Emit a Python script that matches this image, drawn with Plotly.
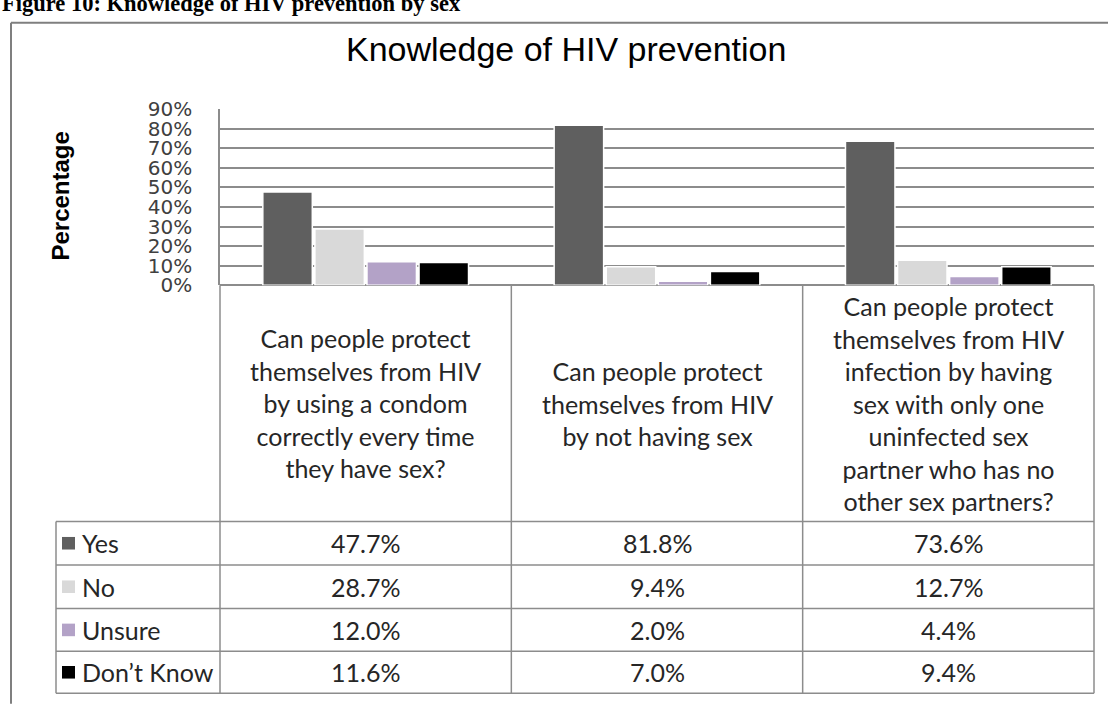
import plotly.graph_objects as go

# Survey questions (x categories) and answer shares in percent
questions = [
    "Can people protect<br>themselves from HIV<br>by using a condom<br>correctly every time<br>they have sex?",
    "Can people protect<br>themselves from HIV<br>by not having sex",
    "Can people protect<br>themselves from HIV<br>infection by having<br>sex with only one<br>uninfected sex<br>partner who has no<br>other sex partners?",
]
answers = ["Yes", "No", "Unsure", "Don\u2019t Know"]
yes_pct = [47.7, 81.8, 73.6]
no_pct = [28.7, 9.4, 12.7]
unsure_pct = [12.0, 2.0, 4.4]
dontknow_pct = [11.6, 7.0, 9.4]
y_ticks = [0, 10, 20, 30, 40, 50, 60, 70, 80, 90]

series = [yes_pct, no_pct, unsure_pct, dontknow_pct]
colors = ["#5f5f5f", "#d9d9d9", "#b3a2c7", "#000000"]

W, H = 1108, 711


def fx(px):
    return px / W


def fy(py):
    return 1 - py / H


# plot-area and table geometry (pixels)
PLOT_L, PLOT_R = 220, 1094
PLOT_TOP, PLOT_BOT = 100.7, 282.7
LEG_L = 56
ROW_LINES = [527.3, 572.3, 617.3, 661.7, 705]
LINE_COL = "#8c8c8c"
TEXT_COL = "#262626"
TABLE_FONT = dict(family="Lato", size=25, color=TEXT_COL)

fig = go.Figure()
for name, vals, col in zip(answers, series, colors):
    fig.add_trace(go.Bar(
        x=questions, y=vals, name=name,
        marker=dict(color=col, line=dict(color="white", width=1.5)),
        showlegend=False,
    ))

shapes = []
# outer chart frame (top and left edges)
shapes.append(dict(type="line", xref="paper", yref="paper", x0=fx(11), x1=fx(W + 5),
                   y0=fy(11), y1=fy(11), line=dict(color="#7f7f7f", width=2)))
shapes.append(dict(type="line", xref="paper", yref="paper", x0=fx(11), x1=fx(11),
                   y0=fy(11), y1=fy(H + 5), line=dict(color="#7f7f7f", width=2)))

# table column separators
col_w = (PLOT_R - PLOT_L) / len(questions)
for i in range(len(questions) + 1):
    xp = PLOT_L + i * col_w
    shapes.append(dict(type="line", xref="paper", yref="paper", x0=fx(xp), x1=fx(xp),
                       y0=fy(PLOT_BOT), y1=fy(ROW_LINES[-1]),
                       line=dict(color=LINE_COL, width=1.5)))
shapes.append(dict(type="line", xref="paper", yref="paper", x0=fx(LEG_L), x1=fx(LEG_L),
                   y0=fy(ROW_LINES[0]), y1=fy(ROW_LINES[-1]),
                   line=dict(color=LINE_COL, width=1.5)))
for yp in ROW_LINES:
    shapes.append(dict(type="line", xref="paper", yref="paper", x0=fx(LEG_L), x1=fx(PLOT_R),
                       y0=fy(yp), y1=fy(yp), line=dict(color=LINE_COL, width=1.5)))

annotations = []
# figure caption (sits partly above the page edge)
annotations.append(dict(text="<b>Figure 10: Knowledge of HIV prevention by sex</b>",
                        xref="paper", yref="paper", x=0, y=fy(6), xanchor="left",
                        yanchor="bottom", showarrow=False,
                        font=dict(family="Liberation Serif", size=22.5, color="black")))
# chart title
annotations.append(dict(text="Knowledge of HIV prevention", xref="paper", yref="paper",
                        x=fx(566), y=fy(38), xanchor="center", yanchor="middle",
                        showarrow=False,
                        font=dict(family="Liberation Sans", size=34, color="black")))
# y-axis title
annotations.append(dict(text="<b>Percentage</b>", xref="paper", yref="paper",
                        x=fx(61), y=fy(191), textangle=-90, showarrow=False,
                        xanchor="center", yanchor="middle",
                        font=dict(family="Liberation Sans", size=24, color="black")))
# category labels row
for q in questions:
    annotations.append(dict(text=q, xref="x", yref="paper", x=q,
                            y=fy((PLOT_BOT + ROW_LINES[0]) / 2), showarrow=False,
                            xanchor="center", yanchor="middle", align="center",
                            font=TABLE_FONT))
# data table rows
for r, (name, vals, col) in enumerate(zip(answers, series, colors)):
    yc = (ROW_LINES[r] + ROW_LINES[r + 1]) / 2
    shapes.append(dict(type="rect", xref="paper", yref="paper",
                       x0=fx(62), x1=fx(75), y0=fy(yc - 6.5), y1=fy(yc + 6.5),
                       fillcolor=col, line=dict(width=0)))
    annotations.append(dict(text=name, xref="paper", yref="paper", x=fx(80), y=fy(yc),
                            xanchor="left", yanchor="middle", showarrow=False,
                            font=TABLE_FONT))
    for q, v in zip(questions, vals):
        annotations.append(dict(text=f"{v:.1f}%", xref="x", yref="paper", x=q, y=fy(yc),
                                xanchor="center", yanchor="middle", showarrow=False,
                                font=TABLE_FONT))

fig.update_layout(
    width=W, height=H,
    margin=dict(l=0, r=0, t=0, b=0),
    paper_bgcolor="white", plot_bgcolor="white",
    barmode="group", bargap=0.285, bargroupgap=0.05,
    shapes=shapes, annotations=annotations,
    xaxis=dict(domain=[fx(PLOT_L), fx(PLOT_R)], showticklabels=False, showgrid=False,
               zeroline=False, showline=False, ticks=""),
    yaxis=dict(domain=[fy(PLOT_BOT), fy(PLOT_TOP)], range=[0, 90], tickvals=y_ticks,
               ticktext=[f"{t}%" for t in y_ticks], showgrid=True, gridcolor=LINE_COL,
               gridwidth=1.5, zeroline=True, zerolinecolor=LINE_COL, zerolinewidth=1.5,
               showline=True, linecolor=LINE_COL, linewidth=1.5,
               ticks="outside", ticklen=22, tickcolor="rgba(0,0,0,0)",
               tickfont=dict(family="DejaVu Sans", size=20, color="#404040")),
)

fig.write_html("out.html")
